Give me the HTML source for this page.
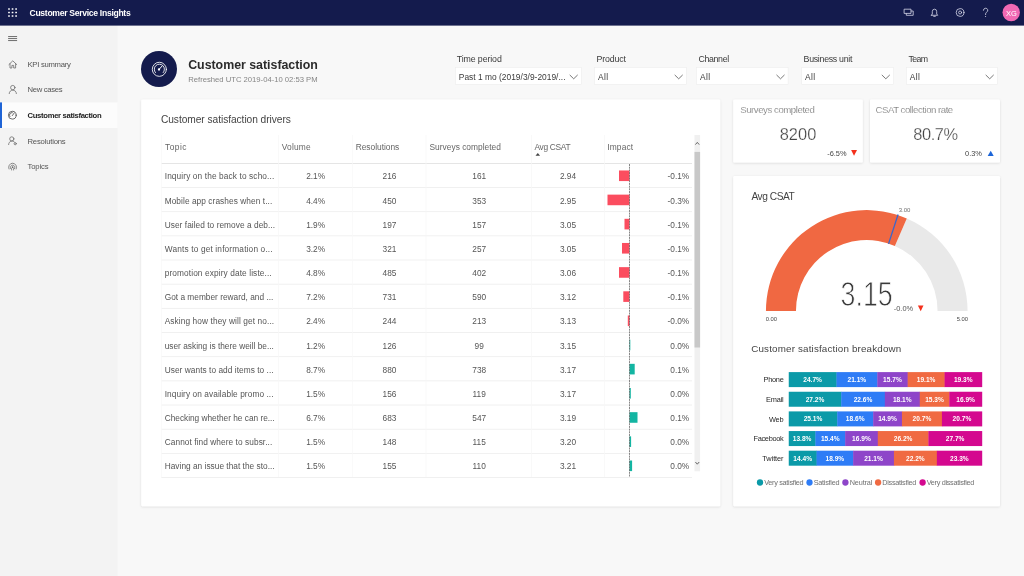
<!DOCTYPE html>
<html lang="en"><head><meta charset="utf-8"><title>Customer Service Insights</title>
<style>
html,body{margin:0;padding:0;background:#f8f8f8;}
.page{position:relative;width:1024px;height:576px;overflow:hidden;background:#f8f8f8;font-family:"Liberation Sans",sans-serif;}
.card{position:absolute;background:#fff;box-shadow:0 0.6px 2.4px rgba(0,0,0,0.10),0 0 1px rgba(0,0,0,0.04);}
.gfx{position:absolute;left:0;top:0;will-change:transform;}
.t{position:absolute;white-space:pre;line-height:1;}
.lt{-webkit-text-stroke:0.22px #fff;}
.kpi{-webkit-text-stroke:0.25px #fff;}
.gray{will-change:transform;}
section,nav,header,main,aside{position:static;display:block;}
</style></head>
<body><div class="page">

<svg class="gfx" width="1024" height="576" viewBox="0 0 1024 576">
<defs><filter id="sh" x="-5%" y="-5%" width="110%" height="112%"><feDropShadow dx="0" dy="0.7" stdDeviation="1.3" flood-color="#000" flood-opacity="0.13"/></filter></defs>
<rect x="141.25" y="99.40" width="579.00" height="406.95" rx="1.4" fill="#fff" filter="url(#sh)"/>
<rect x="733.20" y="99.50" width="129.60" height="63.10" rx="1.4" fill="#fff" filter="url(#sh)"/>
<rect x="870.00" y="99.50" width="130.00" height="63.10" rx="1.4" fill="#fff" filter="url(#sh)"/>
<rect x="733.25" y="176.10" width="266.75" height="330.25" rx="1.4" fill="#fff" filter="url(#sh)"/>
<rect x="0" y="24" width="117.6" height="552" fill="#f3f3f3"/>
<rect x="0" y="102.4" width="117.6" height="25.6" fill="#fcfcfc"/>
<rect x="0" y="102.4" width="2" height="25.6" fill="#1f64d6"/>
<rect x="0" y="0" width="1024" height="25.6" fill="#141b4d"/>
<rect x="8.15" y="8.15" width="1.7" height="1.7" rx="0.3" fill="#fff"/>
<rect x="8.15" y="11.65" width="1.7" height="1.7" rx="0.3" fill="#fff"/>
<rect x="8.15" y="15.15" width="1.7" height="1.7" rx="0.3" fill="#fff"/>
<rect x="11.70" y="8.15" width="1.7" height="1.7" rx="0.3" fill="#fff"/>
<rect x="11.70" y="11.65" width="1.7" height="1.7" rx="0.3" fill="#fff"/>
<rect x="11.70" y="15.15" width="1.7" height="1.7" rx="0.3" fill="#fff"/>
<rect x="15.25" y="8.15" width="1.7" height="1.7" rx="0.3" fill="#fff"/>
<rect x="15.25" y="11.65" width="1.7" height="1.7" rx="0.3" fill="#fff"/>
<rect x="15.25" y="15.15" width="1.7" height="1.7" rx="0.3" fill="#fff"/>
<rect x="8.1" y="36.05" width="9" height="1" fill="#6e6e6e"/>
<rect x="8.1" y="38.05" width="9" height="1" fill="#6e6e6e"/>
<rect x="8.1" y="40.05" width="9" height="1" fill="#6e6e6e"/>
<path fill="none" stroke="#6a6a6a" stroke-width="0.78" stroke-linecap="round" stroke-linejoin="round" d="M8.9 64.6 L12.8 60.8 L16.7 64.6 M10 63.7 V68 H11.9 V65.4 H13.7 V68 H15.6 V63.7"/>
<circle fill="none" stroke="#6a6a6a" stroke-width="0.78" stroke-linecap="round" stroke-linejoin="round" cx="12.8" cy="87.6" r="2.2"/><path fill="none" stroke="#6a6a6a" stroke-width="0.78" stroke-linecap="round" stroke-linejoin="round" d="M9.2 93.6 C9.2 88.9 16.4 88.9 16.4 93.6"/>
<circle fill="none" stroke="#444" stroke-width="0.78" stroke-linecap="round" stroke-linejoin="round" cx="12.3" cy="115.2" r="3.9"/><path fill="none" stroke="#444" stroke-width="0.78" stroke-linecap="round" stroke-linejoin="round" d="M12.3 115.6 L14.3 112.9 M9.9 116.6 A2.6 2.6 0 0 1 12.3 112.6"/>
<circle fill="none" stroke="#6a6a6a" stroke-width="0.78" stroke-linecap="round" stroke-linejoin="round" cx="11.8" cy="138.9" r="2.1"/><path fill="none" stroke="#6a6a6a" stroke-width="0.78" stroke-linecap="round" stroke-linejoin="round" d="M8.6 144.6 C8.6 140.2 14 140.2 14.6 142.2"/><circle fill="none" stroke="#6a6a6a" stroke-width="0.78" stroke-linecap="round" stroke-linejoin="round" cx="15.2" cy="143.7" r="1.1"/>
<path fill="none" stroke="#6a6a6a" stroke-width="0.78" stroke-linecap="round" stroke-linejoin="round" d="M9 169 A4 4 0 1 1 16.2 169 M10.6 168.6 A2.3 2.3 0 1 1 14.6 168.6"/><circle cx="12.6" cy="167.2" r="0.9" fill="#6a6a6a"/><path fill="none" stroke="#6a6a6a" stroke-width="0.78" stroke-linecap="round" stroke-linejoin="round" d="M11.6 170 V168.6 M13.6 170 V168.6"/>
<path fill="none" stroke="#d5d7e8" stroke-width="0.8" stroke-linejoin="round" stroke-linecap="round" d="M904.5 9.2 H911 V13.4 H904.5 Z M906.3 13.6 V15.3 H913.2 V11 H911.2"/>
<path fill="none" stroke="#d5d7e8" stroke-width="0.8" stroke-linejoin="round" stroke-linecap="round" d="M931.3 15.3 H937.7 L936.7 14 V11.6 A2.2 2.4 0 0 0 932.3 11.6 V14 Z M933.7 16.4 H935.3"/>
<circle fill="none" stroke="#d5d7e8" stroke-width="0.8" stroke-linejoin="round" stroke-linecap="round" cx="960.1" cy="12.5" r="3.9"/><circle fill="none" stroke="#d5d7e8" stroke-width="0.8" stroke-linejoin="round" stroke-linecap="round" cx="960.1" cy="12.5" r="1.5"/>
<path fill="none" stroke="#d5d7e8" stroke-width="0.8" stroke-linejoin="round" stroke-linecap="round" d="M983.4 10.3 A2.2 2.1 0 1 1 986.6 12.2 C985.7 12.8 985.6 13.3 985.6 14.6"/><circle cx="985.6" cy="16.5" r="0.55" fill="#d5d7e8"/>
<circle cx="1011.2" cy="12.5" r="8.7" fill="#f169b4"/>
<circle cx="159" cy="69" r="18" fill="#141b4d"/>
<circle fill="none" stroke="#fff" stroke-width="0.85" stroke-linecap="round" cx="159.35" cy="69.3" r="7.05"/>
<path fill="none" stroke="#fff" stroke-width="0.85" stroke-linecap="round" d="M155.45 72.6 A5.1 5.1 0 1 1 163.25 72.6"/>
<circle cx="159.0" cy="69.5" r="1.15" fill="#fff"/><path d="M159.0 69.5 L162.1 66.0" stroke="#fff" stroke-width="1.0" stroke-linecap="round"/>
<rect x="455.50" y="67.4" width="125.80" height="16.9" fill="#fff" stroke="#ededed" stroke-width="0.6"/>
<path d="M569.70 74.9 L573.70 78.8 L577.70 74.9" fill="none" stroke="#555" stroke-width="0.8"/>
<rect x="594.60" y="67.4" width="91.70" height="16.9" fill="#fff" stroke="#ededed" stroke-width="0.6"/>
<path d="M674.70 74.9 L678.70 78.8 L682.70 74.9" fill="none" stroke="#555" stroke-width="0.8"/>
<rect x="696.60" y="67.4" width="91.50" height="16.9" fill="#fff" stroke="#ededed" stroke-width="0.6"/>
<path d="M776.50 74.9 L780.50 78.8 L784.50 74.9" fill="none" stroke="#555" stroke-width="0.8"/>
<rect x="801.70" y="67.4" width="91.70" height="16.9" fill="#fff" stroke="#ededed" stroke-width="0.6"/>
<path d="M881.80 74.9 L885.80 78.8 L889.80 74.9" fill="none" stroke="#555" stroke-width="0.8"/>
<rect x="906.50" y="67.4" width="90.80" height="16.9" fill="#fff" stroke="#ededed" stroke-width="0.6"/>
<path d="M985.70 74.9 L989.70 78.8 L993.70 74.9" fill="none" stroke="#555" stroke-width="0.8"/>
<rect x="161.3" y="163.1" width="530.7" height="0.9" fill="#e2e2e2"/>
<rect x="161.3" y="187.10" width="530.7" height="0.8" fill="#ededed"/>
<rect x="161.3" y="211.27" width="530.7" height="0.8" fill="#ededed"/>
<rect x="161.3" y="235.44" width="530.7" height="0.8" fill="#ededed"/>
<rect x="161.3" y="259.61" width="530.7" height="0.8" fill="#ededed"/>
<rect x="161.3" y="283.78" width="530.7" height="0.8" fill="#ededed"/>
<rect x="161.3" y="307.95" width="530.7" height="0.8" fill="#ededed"/>
<rect x="161.3" y="332.12" width="530.7" height="0.8" fill="#ededed"/>
<rect x="161.3" y="356.29" width="530.7" height="0.8" fill="#ededed"/>
<rect x="161.3" y="380.46" width="530.7" height="0.8" fill="#ededed"/>
<rect x="161.3" y="404.63" width="530.7" height="0.8" fill="#ededed"/>
<rect x="161.3" y="428.80" width="530.7" height="0.8" fill="#ededed"/>
<rect x="161.3" y="452.97" width="530.7" height="0.8" fill="#ededed"/>
<rect x="161.3" y="477.14" width="530.7" height="0.8" fill="#ededed"/>
<rect x="160.95" y="135" width="0.7" height="342" fill="#f7f7f7"/>
<rect x="278.05" y="135" width="0.7" height="342" fill="#f7f7f7"/>
<rect x="351.95" y="135" width="0.7" height="342" fill="#f7f7f7"/>
<rect x="425.65" y="135" width="0.7" height="342" fill="#f7f7f7"/>
<rect x="531.25" y="135" width="0.7" height="342" fill="#f7f7f7"/>
<rect x="604.25" y="135" width="0.7" height="342" fill="#f7f7f7"/>
<path d="M535.5 155.7 L537.8 153 L540.1 155.7 Z" fill="#444"/>
<rect x="619.00" y="170.47" width="10.50" height="10.6" fill="#fb4d5f"/>
<rect x="607.50" y="194.63" width="22.00" height="10.6" fill="#fb4d5f"/>
<rect x="624.50" y="218.81" width="5.00" height="10.6" fill="#fb4d5f"/>
<rect x="622.00" y="242.97" width="7.50" height="10.6" fill="#fb4d5f"/>
<rect x="619.00" y="267.15" width="10.50" height="10.6" fill="#fb4d5f"/>
<rect x="623.30" y="291.31" width="6.20" height="10.6" fill="#fb4d5f"/>
<rect x="627.80" y="315.49" width="1.70" height="10.6" fill="#fb4d5f"/>
<rect x="629.50" y="339.66" width="0.80" height="10.6" fill="#13b5a2"/>
<rect x="629.50" y="363.83" width="5.20" height="10.6" fill="#13b5a2"/>
<rect x="629.50" y="388.00" width="1.30" height="10.6" fill="#13b5a2"/>
<rect x="629.50" y="412.17" width="8.00" height="10.6" fill="#13b5a2"/>
<rect x="629.50" y="436.34" width="1.60" height="10.6" fill="#13b5a2"/>
<rect x="629.50" y="460.51" width="2.60" height="10.6" fill="#13b5a2"/>
<path d="M629.50 164 V477" stroke="#555" stroke-width="0.7" stroke-dasharray="2 0.7" fill="none"/>
<rect x="694.5" y="135" width="5.6" height="336.3" fill="#f0f0f0"/>
<rect x="694.5" y="151.9" width="5.6" height="195.6" fill="#c8c8c8"/>
<path d="M695.4 144.6 L697.3 142.4 L699.2 144.6" fill="none" stroke="#444" stroke-width="0.8"/>
<path d="M695.4 462 L697.3 464.2 L699.2 462" fill="none" stroke="#444" stroke-width="0.8"/>
<path d="M851.1 150 H857 L854.05 155.7 Z" fill="#f4311d"/>
<path d="M987.7 156 H993.7 L990.7 150.8 Z" fill="#1c65d8"/>
<path d="M906.78 218.39 A100.80 100.80 0 0 1 967.55 310.90 L937.55 310.90 A70.80 70.80 0 0 0 894.87 245.92 Z" fill="#e9e9e9"/>
<path d="M765.95 310.90 A100.80 100.80 0 0 1 906.78 218.39 L894.87 245.92 A70.80 70.80 0 0 0 795.95 310.90 Z" fill="#f06842"/>
<path d="M888.54 243.85 L898.08 214.46" stroke="#3a66cc" stroke-width="1.3"/>
<path d="M917.9 305.6 H923.5 L920.7 311.2 Z" fill="#f4311d"/>
<text x="840.6" y="305.6" font-family="Liberation Sans, sans-serif" font-size="34.6" fill="#3a3a3a" stroke="#fff" stroke-width="0.9" textLength="52.2" lengthAdjust="spacingAndGlyphs">3.15</text>
<rect x="788.75" y="372.10" width="48.06" height="15.00" fill="#0b9aa8"/>
<rect x="836.51" y="372.10" width="41.10" height="15.00" fill="#2e7cf6"/>
<rect x="877.30" y="372.10" width="30.65" height="15.00" fill="#8e45c9"/>
<rect x="907.66" y="372.10" width="37.23" height="15.00" fill="#f06a42"/>
<rect x="944.58" y="372.10" width="37.62" height="15.00" fill="#d4088f"/>
<rect x="788.75" y="391.75" width="52.78" height="15.00" fill="#0b9aa8"/>
<rect x="841.23" y="391.75" width="43.91" height="15.00" fill="#2e7cf6"/>
<rect x="884.84" y="391.75" width="35.23" height="15.00" fill="#8e45c9"/>
<rect x="919.77" y="391.75" width="29.82" height="15.00" fill="#f06a42"/>
<rect x="949.29" y="391.75" width="32.91" height="15.00" fill="#d4088f"/>
<rect x="788.75" y="411.40" width="48.78" height="15.00" fill="#0b9aa8"/>
<rect x="837.23" y="411.40" width="36.23" height="15.00" fill="#2e7cf6"/>
<rect x="873.16" y="411.40" width="29.08" height="15.00" fill="#8e45c9"/>
<rect x="901.94" y="411.40" width="40.28" height="15.00" fill="#f06a42"/>
<rect x="941.92" y="411.40" width="40.28" height="15.00" fill="#d4088f"/>
<rect x="788.75" y="431.05" width="26.95" height="15.00" fill="#0b9aa8"/>
<rect x="815.40" y="431.05" width="30.05" height="15.00" fill="#2e7cf6"/>
<rect x="845.15" y="431.05" width="32.94" height="15.00" fill="#8e45c9"/>
<rect x="877.79" y="431.05" width="50.91" height="15.00" fill="#f06a42"/>
<rect x="928.40" y="431.05" width="53.80" height="15.00" fill="#d4088f"/>
<rect x="788.75" y="450.70" width="28.14" height="15.00" fill="#0b9aa8"/>
<rect x="816.59" y="450.70" width="36.84" height="15.00" fill="#2e7cf6"/>
<rect x="853.13" y="450.70" width="41.10" height="15.00" fill="#8e45c9"/>
<rect x="893.93" y="450.70" width="43.22" height="15.00" fill="#f06a42"/>
<rect x="936.85" y="450.70" width="45.35" height="15.00" fill="#d4088f"/>
<circle cx="760.00" cy="482.5" r="3.15" fill="#0b9aa8"/>
<circle cx="809.50" cy="482.5" r="3.15" fill="#2e7cf6"/>
<circle cx="845.40" cy="482.5" r="3.15" fill="#8e45c9"/>
<circle cx="878.10" cy="482.5" r="3.15" fill="#f06a42"/>
<circle cx="922.60" cy="482.5" r="3.15" fill="#d4088f"/>
</svg>
<div class="labels">
<span class="t" style="left:29.5px;top:9px;font-size:8.6px;font-weight:700;color:#fff;letter-spacing:-0.3px">Customer Service Insights</span>
<span class="t" style="left:911.3px;width:200px;text-align:center;top:10px;font-size:7.5px;color:#fff">XG</span>
<span class="t" style="left:27.53px;top:61px;font-size:7.7px;color:#555;letter-spacing:-0.28px">KPI summary</span>
<span class="t" style="left:27.53px;top:86px;font-size:7.7px;color:#555;letter-spacing:-0.33px">New cases</span>
<span class="t" style="left:27.53px;top:112px;font-size:7.7px;font-weight:700;color:#222;letter-spacing:-0.33px">Customer satisfaction</span>
<span class="t" style="left:27.53px;top:138px;font-size:7.7px;color:#555;letter-spacing:-0.2px">Resolutions</span>
<span class="t" style="left:27.53px;top:163px;font-size:7.7px;color:#555;letter-spacing:-0.14px">Topics</span>
</div>
<div class="labels gray">
<span class="t" style="left:188.17px;top:59px;font-size:12.4px;font-weight:700;color:#2b2b2b;letter-spacing:-0.02px">Customer satisfaction</span>
<span class="t" style="left:188.33px;top:76px;font-size:7.7px;color:#858585;letter-spacing:-0.02px">Refreshed UTC 2019-04-10 02:53 PM</span>
<span class="t" style="left:456.69px;top:55px;font-size:8.8px;color:#3a3a3a;letter-spacing:-0.1px">Time period</span>
<span class="t" style="left:458.81px;top:73px;font-size:8.4px;color:#3a3a3a;letter-spacing:0.02px">Past 1 mo (2019/3/9-2019/...</span>
<span class="t" style="left:596.49px;top:55px;font-size:8.8px;color:#3a3a3a;letter-spacing:-0.16px">Product</span>
<span class="t" style="left:597.91px;top:73px;font-size:8.4px;color:#3a3a3a;letter-spacing:0.43px">All</span>
<span class="t" style="left:698.49px;top:55px;font-size:8.8px;color:#3a3a3a;letter-spacing:-0.35px">Channel</span>
<span class="t" style="left:699.91px;top:73px;font-size:8.4px;color:#3a3a3a;letter-spacing:0.43px">All</span>
<span class="t" style="left:803.59px;top:55px;font-size:8.8px;color:#3a3a3a;letter-spacing:-0.29px">Business unit</span>
<span class="t" style="left:805.01px;top:73px;font-size:8.4px;color:#3a3a3a;letter-spacing:0.43px">All</span>
<span class="t" style="left:908.39px;top:55px;font-size:8.8px;color:#3a3a3a;letter-spacing:-0.57px">Team</span>
<span class="t" style="left:909.81px;top:73px;font-size:8.4px;color:#3a3a3a;letter-spacing:0.43px">All</span>
<span class="t" style="left:160.94px;top:115px;font-size:10.2px;color:#444;letter-spacing:-0.05px">Customer satisfaction drivers</span>
<span class="t" style="left:165.11px;top:143px;font-size:8.4px;color:#666;letter-spacing:0.43px">Topic</span>
<span class="t" style="left:281.81px;top:143px;font-size:8.4px;color:#666;letter-spacing:0.18px">Volume</span>
<span class="t" style="left:355.71px;top:143px;font-size:8.4px;color:#666;letter-spacing:-0.02px">Resolutions</span>
<span class="t" style="left:429.51px;top:143px;font-size:8.4px;color:#666;letter-spacing:0.01px">Surveys completed</span>
<span class="t" style="left:534.51px;top:143px;font-size:8.4px;color:#666;letter-spacing:-0.32px">Avg CSAT</span>
<span class="t" style="left:607.21px;top:143px;font-size:8.4px;color:#666;letter-spacing:0.16px">Impact</span>
<span class="t topic" style="left:164.71px;top:172px;font-size:8.3px;color:#555;letter-spacing:0.12px">Inquiry on the back to scho...</span>
<span class="t num" style="left:215.6px;width:200px;text-align:center;top:172px;font-size:8.3px;color:#555">2.1%</span>
<span class="t num" style="left:289.5px;width:200px;text-align:center;top:172px;font-size:8.3px;color:#555">216</span>
<span class="t num" style="left:379.2px;width:200px;text-align:center;top:172px;font-size:8.3px;color:#555">161</span>
<span class="t num" style="left:468px;width:200px;text-align:center;top:172px;font-size:8.3px;color:#555">2.94</span>
<span class="t num" style="right:334.81px;top:172px;font-size:8.3px;color:#555">-0.1%</span>
<span class="t topic" style="left:164.71px;top:197px;font-size:8.3px;color:#555;letter-spacing:0.07px">Mobile app crashes when t...</span>
<span class="t num" style="left:215.6px;width:200px;text-align:center;top:197px;font-size:8.3px;color:#555">4.4%</span>
<span class="t num" style="left:289.5px;width:200px;text-align:center;top:197px;font-size:8.3px;color:#555">450</span>
<span class="t num" style="left:379.2px;width:200px;text-align:center;top:197px;font-size:8.3px;color:#555">353</span>
<span class="t num" style="left:468px;width:200px;text-align:center;top:197px;font-size:8.3px;color:#555">2.95</span>
<span class="t num" style="right:334.81px;top:197px;font-size:8.3px;color:#555">-0.3%</span>
<span class="t topic" style="left:164.71px;top:221px;font-size:8.3px;color:#555;letter-spacing:0.05px">User failed to remove a deb...</span>
<span class="t num" style="left:215.6px;width:200px;text-align:center;top:221px;font-size:8.3px;color:#555">1.9%</span>
<span class="t num" style="left:289.5px;width:200px;text-align:center;top:221px;font-size:8.3px;color:#555">197</span>
<span class="t num" style="left:379.2px;width:200px;text-align:center;top:221px;font-size:8.3px;color:#555">157</span>
<span class="t num" style="left:468px;width:200px;text-align:center;top:221px;font-size:8.3px;color:#555">3.05</span>
<span class="t num" style="right:334.81px;top:221px;font-size:8.3px;color:#555">-0.1%</span>
<span class="t topic" style="left:164.71px;top:245px;font-size:8.3px;color:#555;letter-spacing:0.16px">Wants to get information o...</span>
<span class="t num" style="left:215.6px;width:200px;text-align:center;top:245px;font-size:8.3px;color:#555">3.2%</span>
<span class="t num" style="left:289.5px;width:200px;text-align:center;top:245px;font-size:8.3px;color:#555">321</span>
<span class="t num" style="left:379.2px;width:200px;text-align:center;top:245px;font-size:8.3px;color:#555">257</span>
<span class="t num" style="left:468px;width:200px;text-align:center;top:245px;font-size:8.3px;color:#555">3.05</span>
<span class="t num" style="right:334.81px;top:245px;font-size:8.3px;color:#555">-0.1%</span>
<span class="t topic" style="left:164.71px;top:269px;font-size:8.3px;color:#555;letter-spacing:0.11px">promotion expiry date liste...</span>
<span class="t num" style="left:215.6px;width:200px;text-align:center;top:269px;font-size:8.3px;color:#555">4.8%</span>
<span class="t num" style="left:289.5px;width:200px;text-align:center;top:269px;font-size:8.3px;color:#555">485</span>
<span class="t num" style="left:379.2px;width:200px;text-align:center;top:269px;font-size:8.3px;color:#555">402</span>
<span class="t num" style="left:468px;width:200px;text-align:center;top:269px;font-size:8.3px;color:#555">3.06</span>
<span class="t num" style="right:334.81px;top:269px;font-size:8.3px;color:#555">-0.1%</span>
<span class="t topic" style="left:164.71px;top:293px;font-size:8.3px;color:#555;letter-spacing:0.01px">Got a member reward, and ...</span>
<span class="t num" style="left:215.6px;width:200px;text-align:center;top:293px;font-size:8.3px;color:#555">7.2%</span>
<span class="t num" style="left:289.5px;width:200px;text-align:center;top:293px;font-size:8.3px;color:#555">731</span>
<span class="t num" style="left:379.2px;width:200px;text-align:center;top:293px;font-size:8.3px;color:#555">590</span>
<span class="t num" style="left:468px;width:200px;text-align:center;top:293px;font-size:8.3px;color:#555">3.12</span>
<span class="t num" style="right:334.81px;top:293px;font-size:8.3px;color:#555">-0.1%</span>
<span class="t topic" style="left:164.71px;top:317px;font-size:8.3px;color:#555;letter-spacing:0.1px">Asking how they will get no...</span>
<span class="t num" style="left:215.6px;width:200px;text-align:center;top:317px;font-size:8.3px;color:#555">2.4%</span>
<span class="t num" style="left:289.5px;width:200px;text-align:center;top:317px;font-size:8.3px;color:#555">244</span>
<span class="t num" style="left:379.2px;width:200px;text-align:center;top:317px;font-size:8.3px;color:#555">213</span>
<span class="t num" style="left:468px;width:200px;text-align:center;top:317px;font-size:8.3px;color:#555">3.13</span>
<span class="t num" style="right:334.81px;top:317px;font-size:8.3px;color:#555">-0.0%</span>
<span class="t topic" style="left:164.71px;top:342px;font-size:8.3px;color:#555;letter-spacing:0.01px">user asking is there weill be...</span>
<span class="t num" style="left:215.6px;width:200px;text-align:center;top:342px;font-size:8.3px;color:#555">1.2%</span>
<span class="t num" style="left:289.5px;width:200px;text-align:center;top:342px;font-size:8.3px;color:#555">126</span>
<span class="t num" style="left:379.2px;width:200px;text-align:center;top:342px;font-size:8.3px;color:#555">99</span>
<span class="t num" style="left:468px;width:200px;text-align:center;top:342px;font-size:8.3px;color:#555">3.15</span>
<span class="t num" style="right:334.81px;top:342px;font-size:8.3px;color:#555">0.0%</span>
<span class="t topic" style="left:164.71px;top:366px;font-size:8.3px;color:#555;letter-spacing:0.05px">User wants to add items to ...</span>
<span class="t num" style="left:215.6px;width:200px;text-align:center;top:366px;font-size:8.3px;color:#555">8.7%</span>
<span class="t num" style="left:289.5px;width:200px;text-align:center;top:366px;font-size:8.3px;color:#555">880</span>
<span class="t num" style="left:379.2px;width:200px;text-align:center;top:366px;font-size:8.3px;color:#555">738</span>
<span class="t num" style="left:468px;width:200px;text-align:center;top:366px;font-size:8.3px;color:#555">3.17</span>
<span class="t num" style="right:334.81px;top:366px;font-size:8.3px;color:#555">0.1%</span>
<span class="t topic" style="left:164.71px;top:390px;font-size:8.3px;color:#555;letter-spacing:0.08px">Inquiry on available promo ...</span>
<span class="t num" style="left:215.6px;width:200px;text-align:center;top:390px;font-size:8.3px;color:#555">1.5%</span>
<span class="t num" style="left:289.5px;width:200px;text-align:center;top:390px;font-size:8.3px;color:#555">156</span>
<span class="t num" style="left:379.2px;width:200px;text-align:center;top:390px;font-size:8.3px;color:#555">119</span>
<span class="t num" style="left:468px;width:200px;text-align:center;top:390px;font-size:8.3px;color:#555">3.17</span>
<span class="t num" style="right:334.81px;top:390px;font-size:8.3px;color:#555">0.0%</span>
<span class="t topic" style="left:164.71px;top:414px;font-size:8.3px;color:#555;letter-spacing:-0.01px">Checking whether he can re...</span>
<span class="t num" style="left:215.6px;width:200px;text-align:center;top:414px;font-size:8.3px;color:#555">6.7%</span>
<span class="t num" style="left:289.5px;width:200px;text-align:center;top:414px;font-size:8.3px;color:#555">683</span>
<span class="t num" style="left:379.2px;width:200px;text-align:center;top:414px;font-size:8.3px;color:#555">547</span>
<span class="t num" style="left:468px;width:200px;text-align:center;top:414px;font-size:8.3px;color:#555">3.19</span>
<span class="t num" style="right:334.81px;top:414px;font-size:8.3px;color:#555">0.1%</span>
<span class="t topic" style="left:164.71px;top:438px;font-size:8.3px;color:#555;letter-spacing:0.07px">Cannot find where to subsr...</span>
<span class="t num" style="left:215.6px;width:200px;text-align:center;top:438px;font-size:8.3px;color:#555">1.5%</span>
<span class="t num" style="left:289.5px;width:200px;text-align:center;top:438px;font-size:8.3px;color:#555">148</span>
<span class="t num" style="left:379.2px;width:200px;text-align:center;top:438px;font-size:8.3px;color:#555">115</span>
<span class="t num" style="left:468px;width:200px;text-align:center;top:438px;font-size:8.3px;color:#555">3.20</span>
<span class="t num" style="right:334.81px;top:438px;font-size:8.3px;color:#555">0.0%</span>
<span class="t topic" style="left:164.71px;top:462px;font-size:8.3px;color:#555;letter-spacing:0.02px">Having an issue that the sto...</span>
<span class="t num" style="left:215.6px;width:200px;text-align:center;top:462px;font-size:8.3px;color:#555">1.5%</span>
<span class="t num" style="left:289.5px;width:200px;text-align:center;top:462px;font-size:8.3px;color:#555">155</span>
<span class="t num" style="left:379.2px;width:200px;text-align:center;top:462px;font-size:8.3px;color:#555">110</span>
<span class="t num" style="left:468px;width:200px;text-align:center;top:462px;font-size:8.3px;color:#555">3.21</span>
<span class="t num" style="right:334.81px;top:462px;font-size:8.3px;color:#555">0.0%</span>
<span class="t lt" style="left:740.16px;top:105px;font-size:9.6px;color:#5c5c5c;letter-spacing:-0.43px">Surveys completed</span>
<span class="t kpi" style="left:779.63px;top:126px;font-size:16.4px;color:#444;letter-spacing:0.07px">8200</span>
<span class="t cond" style="right:177.44px;top:150px;font-size:7.4px;color:#444">-6.5%</span>
<span class="t lt" style="left:875.56px;top:105px;font-size:9.6px;color:#5c5c5c;letter-spacing:-0.47px">CSAT collection rate</span>
<span class="t kpi" style="left:913.23px;top:126px;font-size:16.4px;color:#444;letter-spacing:-0.41px">80.7%</span>
<span class="t cond" style="right:42.14px;top:150px;font-size:7.4px;color:#444">0.3%</span>
<span class="t" style="left:751.44px;top:192px;font-size:10.2px;color:#444;letter-spacing:-0.46px">Avg CSAT</span>
<span class="t" style="left:898.79px;top:207px;font-size:6px;color:#707070;letter-spacing:-0.07px">3.00</span>
<span class="t" style="left:765.8px;top:317px;font-size:5.8px;color:#444;letter-spacing:-0.05px">0.00</span>
<span class="t" style="left:956.8px;top:317px;font-size:5.8px;color:#444;letter-spacing:-0.05px">5.00</span>
<span class="t cond" style="left:893.74px;top:305px;font-size:7.4px;color:#555;letter-spacing:0.02px">-0.0%</span>
<span class="t" style="left:751.26px;top:344px;font-size:9.8px;color:#444;letter-spacing:0.17px">Customer satisfaction breakdown</span>
<span class="t" style="left:763.54px;top:376px;font-size:7.4px;color:#262626;letter-spacing:-0.29px">Phone</span>
<span class="t cond2" style="left:712.63px;width:200px;text-align:center;top:377px;font-size:6.6px;font-weight:700;color:#fff">24.7%</span>
<span class="t cond2" style="left:756.9px;width:200px;text-align:center;top:377px;font-size:6.6px;font-weight:700;color:#fff">21.1%</span>
<span class="t cond2" style="left:792.48px;width:200px;text-align:center;top:377px;font-size:6.6px;font-weight:700;color:#fff">15.7%</span>
<span class="t cond2" style="left:826.12px;width:200px;text-align:center;top:377px;font-size:6.6px;font-weight:700;color:#fff">19.1%</span>
<span class="t cond2" style="left:863.24px;width:200px;text-align:center;top:377px;font-size:6.6px;font-weight:700;color:#fff">19.3%</span>
<span class="t" style="left:765.94px;top:396px;font-size:7.4px;color:#262626;letter-spacing:-0.19px">Email</span>
<span class="t cond2" style="left:714.99px;width:200px;text-align:center;top:397px;font-size:6.6px;font-weight:700;color:#fff">27.2%</span>
<span class="t cond2" style="left:763.04px;width:200px;text-align:center;top:397px;font-size:6.6px;font-weight:700;color:#fff">22.6%</span>
<span class="t cond2" style="left:802.31px;width:200px;text-align:center;top:397px;font-size:6.6px;font-weight:700;color:#fff">18.1%</span>
<span class="t cond2" style="left:834.53px;width:200px;text-align:center;top:397px;font-size:6.6px;font-weight:700;color:#fff">15.3%</span>
<span class="t cond2" style="left:865.6px;width:200px;text-align:center;top:397px;font-size:6.6px;font-weight:700;color:#fff">16.9%</span>
<span class="t" style="left:768.94px;top:416px;font-size:7.4px;color:#262626;letter-spacing:-0.19px">Web</span>
<span class="t cond2" style="left:712.99px;width:200px;text-align:center;top:416px;font-size:6.6px;font-weight:700;color:#fff">25.1%</span>
<span class="t cond2" style="left:755.19px;width:200px;text-align:center;top:416px;font-size:6.6px;font-weight:700;color:#fff">18.6%</span>
<span class="t cond2" style="left:787.55px;width:200px;text-align:center;top:416px;font-size:6.6px;font-weight:700;color:#fff">14.9%</span>
<span class="t cond2" style="left:821.93px;width:200px;text-align:center;top:416px;font-size:6.6px;font-weight:700;color:#fff">20.7%</span>
<span class="t cond2" style="left:861.91px;width:200px;text-align:center;top:416px;font-size:6.6px;font-weight:700;color:#fff">20.7%</span>
<span class="t" style="left:753.44px;top:435px;font-size:7.4px;color:#262626;letter-spacing:-0.31px">Facebook</span>
<span class="t cond2" style="left:702.08px;width:200px;text-align:center;top:436px;font-size:6.6px;font-weight:700;color:#fff">13.8%</span>
<span class="t cond2" style="left:730.28px;width:200px;text-align:center;top:436px;font-size:6.6px;font-weight:700;color:#fff">15.4%</span>
<span class="t cond2" style="left:761.47px;width:200px;text-align:center;top:436px;font-size:6.6px;font-weight:700;color:#fff">16.9%</span>
<span class="t cond2" style="left:803.09px;width:200px;text-align:center;top:436px;font-size:6.6px;font-weight:700;color:#fff">26.2%</span>
<span class="t cond2" style="left:855.15px;width:200px;text-align:center;top:436px;font-size:6.6px;font-weight:700;color:#fff">27.7%</span>
<span class="t" style="left:762.34px;top:455px;font-size:7.4px;color:#262626;letter-spacing:-0.09px">Twitter</span>
<span class="t cond2" style="left:702.67px;width:200px;text-align:center;top:456px;font-size:6.6px;font-weight:700;color:#fff">14.4%</span>
<span class="t cond2" style="left:734.86px;width:200px;text-align:center;top:456px;font-size:6.6px;font-weight:700;color:#fff">18.9%</span>
<span class="t cond2" style="left:773.53px;width:200px;text-align:center;top:456px;font-size:6.6px;font-weight:700;color:#fff">21.1%</span>
<span class="t cond2" style="left:815.39px;width:200px;text-align:center;top:456px;font-size:6.6px;font-weight:700;color:#fff">22.2%</span>
<span class="t cond2" style="left:859.38px;width:200px;text-align:center;top:456px;font-size:6.6px;font-weight:700;color:#fff">23.3%</span>
<span class="t" style="left:764.14px;top:479px;font-size:7.3px;color:#717171;letter-spacing:-0.3px">Very satisfied</span>
<span class="t" style="left:813.74px;top:479px;font-size:7.3px;color:#717171;letter-spacing:-0.28px">Satisfied</span>
<span class="t" style="left:849.74px;top:479px;font-size:7.3px;color:#717171;letter-spacing:-0.16px">Neutral</span>
<span class="t" style="left:882.24px;top:479px;font-size:7.3px;color:#717171;letter-spacing:-0.29px">Dissatisfied</span>
<span class="t" style="left:926.64px;top:479px;font-size:7.3px;color:#717171;letter-spacing:-0.31px">Very dissatisfied</span>
</div>
</div></body></html>
